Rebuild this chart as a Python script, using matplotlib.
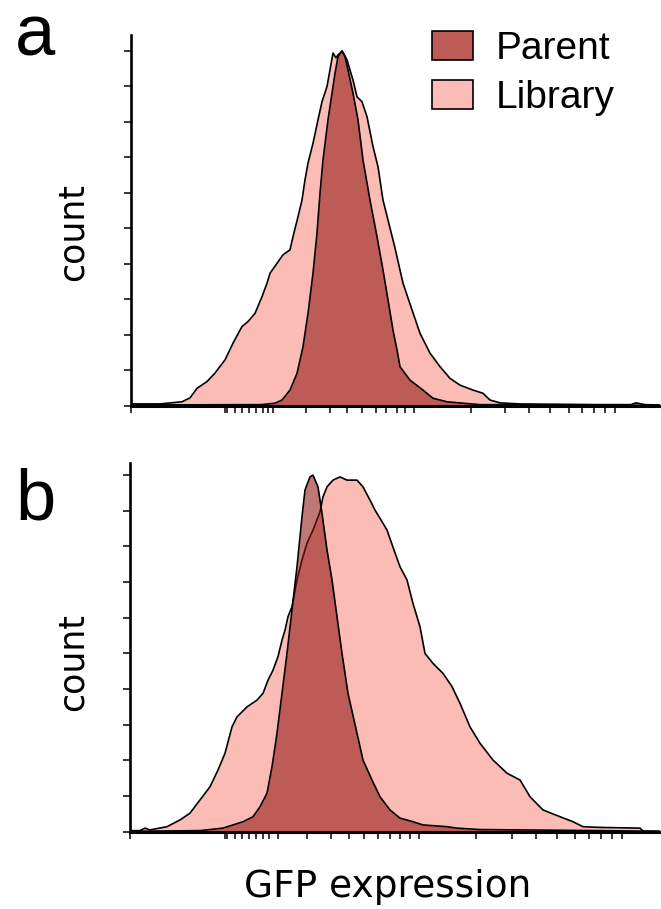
import matplotlib
matplotlib.use("Agg")
import matplotlib.pyplot as plt
from matplotlib.patches import Patch

# ---------------- data (x = fluorescence channel, y = % of max count) ----------------
# Panel a
lib_a_x = [0, 29, 51, 59, 66, 76, 84, 94, 102, 111, 117, 124, 131, 136, 139, 146, 152, 159, 162, 167,
           171, 174, 177, 182, 187, 191, 196, 199, 202, 205, 207, 211, 213, 216, 222, 226, 231, 236,
           242, 247, 252, 257, 264, 272, 281, 289, 299, 309, 319, 329, 342, 352, 359, 369, 389, 469,
           500, 505, 514, 529]
lib_a_y = [0.5, 0.5, 1.1, 2.2, 4.9, 6.8, 9.2, 12.9, 17.6, 22.3, 23.7, 26.0, 30.7, 34.5, 37.3, 40.1,
           42.5, 43.9, 47.6, 53.2, 57.9, 63.6, 68.3, 73.9, 80.5, 85.6, 89.9, 94.6, 99.3, 98.0, 98.8,
           99.7, 99.0, 97.4, 91.7, 87.0, 85.6, 81.4, 73.0, 67.3, 57.9, 52.3, 44.4, 34.5, 27.0, 20.4,
           14.8, 11.0, 7.7, 5.8, 4.4, 3.5, 1.6, 0.8, 0.5, 0.3, 0.3, 0.8, 0.3, 0.2]
par_a_x = [0, 130, 144, 151, 159, 166, 172, 177, 182, 186, 189, 192, 197, 201, 204, 207, 211, 214,
           217, 222, 227, 232, 239, 246, 252, 257, 262, 266, 269, 279, 292, 302, 316, 332, 349, 529]
par_a_y = [0.2, 0.3, 0.7, 1.6, 4.4, 9.1, 16.6, 26.0, 37.3, 48.6, 59.8, 69.2, 80.5, 88.0, 93.6, 98.3,
           100, 98.3, 94.6, 88.0, 80.5, 69.2, 57.9, 47.6, 38.2, 29.8, 21.3, 15.7, 11.0, 7.2, 4.4, 2.1,
           1.1, 0.7, 0.3, 0.1]

# Panel b
lib_b_x = [0, 10, 15, 20, 37, 50, 60, 70, 80, 88, 95, 102, 107, 117, 127, 133, 138, 143, 148, 152,
           155, 158, 162, 167, 172, 177, 183, 190, 193, 197, 203, 210, 217, 227, 233, 240, 245, 253,
           257, 263, 270, 277, 283, 290, 295, 303, 313, 322, 330, 340, 350, 363, 377, 390, 400, 413,
           430, 443, 453, 470, 510, 513, 530]
lib_b_y = [0.3, 0.3, 1.0, 0.5, 1.4, 3.3, 5.2, 8.9, 12.6, 17.3, 22.0, 29.4, 32.2, 35.0, 36.9, 38.8,
           42.5, 45.3, 49.1, 53.7, 56.5, 60.3, 63.1, 70.6, 76.2, 80.9, 84.6, 89.7, 93.9, 96.7, 98.6,
           99.5, 98.6, 98.6, 96.7, 93.0, 90.2, 86.5, 84.6, 79.8, 74.3, 70.6, 64.0, 57.5, 50.0, 47.2,
           44.4, 40.7, 36.0, 29.4, 24.8, 20.1, 16.4, 14.5, 9.8, 6.1, 4.2, 2.8, 1.4, 1.2, 1.0, 0.2, 0.1]
par_b_x = [0, 70, 93, 103, 113, 123, 130, 137, 142, 147, 152, 157, 162, 167, 172, 175, 180, 183, 188,
           192, 197, 202, 207, 212, 218, 227, 233, 242, 250, 260, 270, 283, 293, 317, 327, 350, 430,
           470, 530]
par_b_y = [0.1, 0.3, 1.0, 1.9, 2.8, 4.2, 7.0, 10.8, 18.2, 27.6, 38.8, 50.0, 62.2, 74.3, 88.3, 95.8,
           99.5, 100, 96.7, 89.3, 79.0, 70.6, 60.3, 50.0, 38.8, 27.6, 20.1, 14.5, 9.8, 6.1, 3.8, 2.8,
           1.9, 1.4, 1.0, 0.6, 0.4, 0.3, 0.1]

# axis tick positions (biexponential display)
ticks_a = [0, 94, 96, 104, 111, 118, 125, 132, 137, 142,
           175, 199, 216, 231, 245, 255, 266, 274, 283,
           340, 374, 398, 419, 438, 451, 463, 474, 484]
ticks_b = [0, 95, 97, 105, 112, 119, 126, 133, 139, 148,
           177, 201, 219, 234, 248, 260, 270, 280, 289,
           346, 382, 406, 427, 445, 459, 471, 482, 492]
y_ticks = [0, 10, 20, 30, 40, 50, 60, 70, 80, 90, 100]

series_labels = ["Parent", "Library"]
parent_solid = "#BD5B57"
library_col = "#FBBCB6"
parent_rgba = (142 / 255, 18 / 255, 15 / 255, 0.57)

# ---------------- figure ----------------
W, H = 661, 909
fig = plt.figure(figsize=(W / 100, H / 100), dpi=100)

ax_a = fig.add_axes([131 / W, 1 - 405.7 / H, 529 / W, (405.7 - 35) / H])
ax_b = fig.add_axes([130 / W, 1 - 831.7 / H, 530 / W, (831.7 - 463) / H])


def draw(ax, lx, ly, px, py, ticks, xmax, ytop):
    ax.fill_between(lx, ly, 0, color=library_col, lw=0, zorder=1)
    ax.plot(lx, ly, color="black", lw=1.2, zorder=2)
    ax.fill_between(px, py, 0, color=parent_rgba, lw=0, zorder=3)
    ax.plot(px, py, color="black", lw=1.2, zorder=4)
    ax.set_xlim(0, xmax)
    ax.set_ylim(0, ytop)
    for s in ("top", "right"):
        ax.spines[s].set_visible(False)
    ax.spines["left"].set_linewidth(1.9)
    ax.spines["bottom"].set_linewidth(2.2)
    ax.spines["bottom"].set_zorder(6)
    ax.set_xticks(ticks)
    ax.set_yticks(y_ticks)
    ax.tick_params(axis="both", direction="out", length=5, width=1.1,
                   labelbottom=False, labelleft=False)
    ax.set_facecolor("none")


draw(ax_a, lib_a_x, lib_a_y, par_a_x, par_a_y, ticks_a, 529, 104.4)
draw(ax_b, lib_b_x, lib_b_y, par_b_x, par_b_y, ticks_b, 530, 103.4)

handles = [Patch(facecolor=parent_solid, edgecolor="black", lw=1.2),
           Patch(facecolor=library_col, edgecolor="black", lw=1.2)]
fig.legend(handles, series_labels, loc="upper left", bbox_to_anchor=(432 / W, 1 - 31 / H),
           frameon=False, borderpad=0, borderaxespad=0,
           prop={"family": "Liberation Sans", "size": 28},
           handlelength=1.05, handleheight=0.77, handletextpad=0.6, labelspacing=0.33)

fig.text(15 / W, 1 - 55 / H, "a", family="Liberation Sans", fontsize=52, va="baseline", ha="left")
fig.text(15 / W, 1 - 520 / H, "b", family="Liberation Sans", fontsize=52, va="baseline", ha="left")

fig.text(73 / W, 1 - 232 / H, "count", family="DejaVu Sans", fontsize=25, rotation=90,
         ha="center", va="center")
fig.text(73 / W, 1 - 662 / H, "count", family="DejaVu Sans", fontsize=25, rotation=90,
         ha="center", va="center")
fig.text(388 / W, 1 - 897 / H, "GFP expression", family="DejaVu Sans", fontsize=27,
         ha="center", va="baseline")

fig.savefig("out.png", dpi=100)
